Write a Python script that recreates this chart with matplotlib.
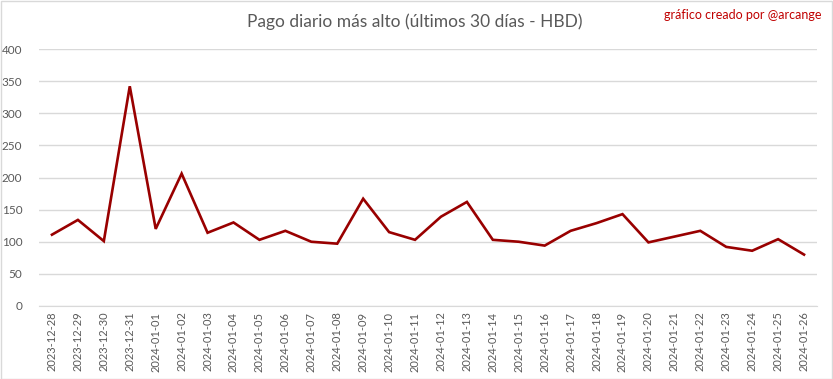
import matplotlib
matplotlib.use("Agg")
import matplotlib.pyplot as plt
from matplotlib.patches import Rectangle

dates = ["2023-12-28", "2023-12-29", "2023-12-30", "2023-12-31", "2024-01-01", "2024-01-02",
         "2024-01-03", "2024-01-04", "2024-01-05", "2024-01-06", "2024-01-07", "2024-01-08",
         "2024-01-09", "2024-01-10", "2024-01-11", "2024-01-12", "2024-01-13", "2024-01-14",
         "2024-01-15", "2024-01-16", "2024-01-17", "2024-01-18", "2024-01-19", "2024-01-20",
         "2024-01-21", "2024-01-22", "2024-01-23", "2024-01-24", "2024-01-25", "2024-01-26"]
values = [111, 134, 101, 342, 120, 206, 114, 130, 103, 117, 100, 97, 167, 115, 103,
          139, 162, 103, 100, 94, 117, 129, 143, 99, 108, 117, 92, 86, 104, 80]
yticks = [0, 50, 100, 150, 200, 250, 300, 350, 400]

plt.rcParams['font.family'] = ['Lato', 'DejaVu Sans']

fig = plt.figure(figsize=(8.33, 3.79), dpi=100)
ax = fig.add_axes([39/833, 1 - 306/379, (817 - 39)/833, (306 - 49)/379])

x = list(range(len(dates)))
ax.plot(x, values, color="#990000", lw=1.9, solid_joinstyle="miter")
ax.set_xlim(-0.5, len(dates) - 0.5)
ax.set_ylim(0, 400)
ax.set_yticks(yticks)
ax.set_xticks(x)
ax.set_xticklabels(dates, rotation=90, fontsize=8, color="#595959")
ax.tick_params(axis="y", labelsize=8.5, labelcolor="#595959", length=0, pad=12)
ax.tick_params(axis="x", length=0, pad=4)
ax.grid(axis="y", color="#d9d9d9", lw=1)
ax.set_axisbelow(True)
for s in ["top", "right", "left"]:
    ax.spines[s].set_visible(False)
ax.spines["bottom"].set_color("#d9d9d9")
for lbl in ax.get_yticklabels():
    lbl.set_horizontalalignment("right")

fig.text(415/833, 1 - 22/379, "Pago diario más alto (últimos 30 días - HBD)",
         ha="center", va="center", fontsize=12.5, color="#595959")
fig.text(822/833, 1 - 15/379, "gráfico creado por @arcange",
         ha="right", va="center", fontsize=9, color="#c00000")

fig.patches.append(Rectangle((0.5/833, 0.5/379), 1 - 1.5/833, 1 - 1.5/379,
                             transform=fig.transFigure, fill=False,
                             edgecolor="#d9d9d9", lw=1))

fig.savefig("out.png", dpi=100)
